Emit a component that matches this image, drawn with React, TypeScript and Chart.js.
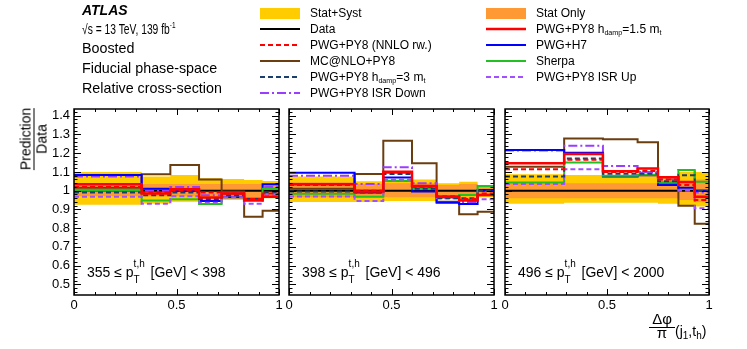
import React, { useEffect, useRef } from "react";
import { Chart, registerables } from "chart.js";
Chart.register(...registerables);

const FONT = "'Liberation Sans', Arial, Helvetica, sans-serif";

const Y_TICKS = [0.5, 0.6, 0.7, 0.8, 0.9, 1.0, 1.1, 1.2, 1.3, 1.4];
const X_TICKS = [0, 0.5, 1];
const Y_MIN = 0.443;
const Y_MAX = 1.436;

const PANEL_LOW = ["355", "398", "496"];
const PANEL_HIGH = ["398", "496", "2000"];

// ---------- panel 1 : 355 <= pT < 398 ----------
const EDGES_1 = [0, 0.33, 0.47, 0.61, 0.72, 0.83, 0.92, 1];
const DATA_1 = [1, 1, 1, 1, 1, 1, 1];
const SYST_UP_1 = [1.1, 1.075, 1.084, 1.066, 1.062, 1.057, 1.052];
const SYST_DN_1 = [0.925, 0.932, 0.941, 0.941, 0.95, 0.95, 0.96];
const STAT_UP_1 = [1.04, 1.035, 1.035, 1.035, 1.035, 1.035, 1.035];
const STAT_DN_1 = [0.97, 0.97, 0.97, 0.97, 0.97, 0.965, 0.965];
const NNLO_1 = [1.02, 0.99, 1.0, 0.99, 0.985, 0.955, 0.985];
const MCNLO_1 = [1.015, 1.087, 1.137, 1.06, 0.995, 0.861, 0.893];
const HDAMP3_1 = [0.99, 0.975, 0.99, 0.955, 0.975, 0.955, 0.99];
const ISRDN_1 = [1.075, 1.0, 1.02, 0.975, 0.985, 0.95, 1.02];
const HDAMP15_1 = [1.034, 0.985, 1.007, 0.963, 0.985, 0.947, 0.968];
const H7_1 = [1.083, 1.01, 1.0, 0.945, 0.965, 0.955, 1.034];
const SHERPA_1 = [1.0, 0.947, 0.954, 0.929, 0.98, 0.96, 1.01];
const ISRUP_1 = [0.968, 0.93, 0.97, 0.935, 0.965, 0.93, 0.975];

// ---------- panel 2 : 398 <= pT < 496 ----------
const EDGES_2 = [0, 0.32, 0.46, 0.6, 0.72, 0.83, 0.92, 1];
const DATA_2 = [1, 1, 1, 1, 1, 1, 1];
const SYST_UP_2 = [1.075, 1.05, 1.06, 1.06, 1.04, 1.048, 1.03];
const SYST_DN_2 = [0.94, 0.94, 0.945, 0.945, 0.955, 0.955, 0.965];
const STAT_UP_2 = [1.045, 1.035, 1.04, 1.04, 1.03, 1.035, 1.025];
const STAT_DN_2 = [0.965, 0.965, 0.965, 0.965, 0.97, 0.97, 0.975];
const NNLO_2 = [1.03, 1.0, 1.095, 1.02, 0.97, 0.955, 0.985];
const MCNLO_2 = [1.01, 1.089, 1.267, 1.146, 0.941, 0.874, 0.888];
const HDAMP3_2 = [0.995, 0.99, 1.089, 1.01, 0.96, 0.96, 1.0];
const ISRDN_2 = [1.08, 1.035, 1.125, 1.039, 0.965, 0.94, 1.0];
const HDAMP15_2 = [1.034, 0.995, 1.101, 1.025, 0.968, 0.947, 0.977];
const H7_2 = [1.096, 0.99, 1.07, 0.995, 0.936, 0.929, 1.003];
const SHERPA_2 = [0.983, 0.968, 1.052, 1.012, 0.97, 0.977, 1.025];
const ISRUP_2 = [0.969, 0.945, 1.06, 1.02, 0.96, 0.95, 0.954];

// ---------- panel 3 : 496 <= pT < 2000 ----------
const EDGES_3 = [0, 0.29, 0.48, 0.65, 0.75, 0.85, 0.93, 1];
const DATA_3 = [1, 1, 1, 1, 1, 1, 1];
const SYST_UP_3 = [1.088, 1.084, 1.08, 1.08, 1.07, 1.1, 1.1];
const SYST_DN_3 = [0.93, 0.935, 0.935, 0.935, 0.93, 0.918, 0.915];
const STAT_UP_3 = [1.04, 1.04, 1.04, 1.04, 1.04, 1.05, 1.06];
const STAT_DN_3 = [0.96, 0.96, 0.96, 0.96, 0.96, 0.95, 0.94];
const NNLO_3 = [1.114, 1.165, 1.1, 1.105, 1.06, 1.03, 0.95];
const MCNLO_3 = [1.128, 1.279, 1.274, 1.258, 1.042, 0.92, 0.823];
const HDAMP3_3 = [1.075, 1.172, 1.09, 1.09, 1.05, 1.082, 0.998];
const ISRDN_3 = [1.215, 1.24, 1.132, 1.1, 1.06, 1.11, 0.99];
const HDAMP15_3 = [1.146, 1.196, 1.104, 1.119, 1.071, 1.046, 0.968];
const H7_3 = [1.217, 1.203, 1.075, 1.082, 1.03, 1.015, 1.0];
const SHERPA_3 = [1.044, 1.151, 1.08, 1.085, 1.045, 1.11, 1.048];
const ISRUP_3 = [1.036, 1.114, 1.105, 1.095, 1.07, 1.0, 0.906];

const GOLD = "#ffcc00";
const ORANGE = "#ff9933";

type Style = { color: string; width: number; dash: number[]; order: number };
const STYLE: Record<string, Style> = {
  data: { color: "#000000", width: 2, dash: [], order: 50 },
  mcnlo: { color: "#6b3e10", width: 2, dash: [], order: 40 },
  isrDn: { color: "#9b3dff", width: 2, dash: [9, 3, 2, 3], order: 9 },
  h7: { color: "#0000ff", width: 2, dash: [], order: 8 },
  sherpa: { color: "#22c022", width: 2, dash: [], order: 7 },
  isrUp: { color: "#a050ff", width: 2, dash: [5, 3], order: 6 },
  hdamp3: { color: "#1b3f6b", width: 2, dash: [5, 3], order: 5 },
  nnlo: { color: "#ff0000", width: 2, dash: [5, 3], order: 4 },
  hdamp15: { color: "#ff0000", width: 2.5, dash: [], order: 3 },
};

const PANELS = [
  {
    edges: EDGES_1, left: 74, right: 279,
    band: { systUp: SYST_UP_1, systDn: SYST_DN_1, statUp: STAT_UP_1, statDn: STAT_DN_1 },
    lines: { data: DATA_1, mcnlo: MCNLO_1, isrDn: ISRDN_1, h7: H7_1, sherpa: SHERPA_1, isrUp: ISRUP_1, hdamp3: HDAMP3_1, nnlo: NNLO_1, hdamp15: HDAMP15_1 },
  },
  {
    edges: EDGES_2, left: 289, right: 494,
    band: { systUp: SYST_UP_2, systDn: SYST_DN_2, statUp: STAT_UP_2, statDn: STAT_DN_2 },
    lines: { data: DATA_2, mcnlo: MCNLO_2, isrDn: ISRDN_2, h7: H7_2, sherpa: SHERPA_2, isrUp: ISRUP_2, hdamp3: HDAMP3_2, nnlo: NNLO_2, hdamp15: HDAMP15_2 },
  },
  {
    edges: EDGES_3, left: 505, right: 709,
    band: { systUp: SYST_UP_3, systDn: SYST_DN_3, statUp: STAT_UP_3, statDn: STAT_DN_3 },
    lines: { data: DATA_3, mcnlo: MCNLO_3, isrDn: ISRDN_3, h7: H7_3, sherpa: SHERPA_3, isrUp: ISRUP_3, hdamp3: HDAMP3_3, nnlo: NNLO_3, hdamp15: HDAMP15_3 },
  },
];

const W = 747;
const H = 349;
const TOP = 109;
const BOTTOM = 295;
const XAXIS_H = 22;

const fmt = (v: number) => `${+(+v).toFixed(2)}`;

const framePlugin = {
  id: "frame",
  afterDraw(chart: any) {
    const { ctx, chartArea: a, scales } = chart;
    const x = scales.x;
    const y = scales.y;
    ctx.save();
    ctx.strokeStyle = "#000";
    ctx.lineWidth = 1;
    ctx.beginPath();
    for (let i = 0; i <= 80; i++) {
      const v = i * 0.02;
      if (v < Y_MIN || v > Y_MAX) continue;
      const py = Math.round(y.getPixelForValue(v)) + 0.5;
      const len = i % 5 === 0 ? 7 : 3.5;
      ctx.moveTo(a.left, py);
      ctx.lineTo(a.left + len, py);
      ctx.moveTo(a.right, py);
      ctx.lineTo(a.right - len, py);
    }
    for (let i = 0; i <= 10; i++) {
      const px = Math.round(x.getPixelForValue(i / 10)) + 0.5;
      const len = i % 5 === 0 ? 6 : 3;
      ctx.moveTo(px, a.bottom);
      ctx.lineTo(px, a.bottom - len);
      ctx.moveTo(px, a.top);
      ctx.lineTo(px, a.top + len);
    }
    ctx.stroke();
    ctx.lineWidth = 1.5;
    ctx.strokeRect(a.left, a.top, a.right - a.left, a.bottom - a.top);
    ctx.restore();
  },
};

function Panel({ panel, showY }: { panel: any; showY: boolean }) {
  const ref = useRef<HTMLCanvasElement | null>(null);
  useEffect(() => {
    if (!ref.current) return;
    const edges: number[] = panel.edges;
    const step = (vals: number[]) => [
      ...vals.map((v, i) => ({ x: edges[i], y: v })),
      { x: edges[edges.length - 1], y: vals[vals.length - 1] },
    ];
    const base = { pointRadius: 0, stepped: "before", borderWidth: 0, borderColor: "transparent", fill: false };
    const datasets: any[] = [
      { ...base, data: step(panel.band.systUp), fill: "+1", backgroundColor: GOLD, order: 100 },
      { ...base, data: step(panel.band.systDn), order: 101 },
      { ...base, data: step(panel.band.statUp), fill: "+1", backgroundColor: ORANGE, order: 98 },
      { ...base, data: step(panel.band.statDn), order: 99 },
    ];
    Object.keys(panel.lines).forEach((k) => {
      const s = STYLE[k];
      datasets.push({
        ...base,
        data: step(panel.lines[k]),
        borderColor: s.color,
        borderWidth: s.width,
        borderDash: s.dash,
        order: s.order,
        borderCapStyle: "butt",
        borderJoinStyle: "miter",
      });
    });
    const chart = new Chart(ref.current, {
      type: "line",
      data: { datasets },
      options: {
        animation: false,
        responsive: false,
        devicePixelRatio: 1,
        events: [],
        layout: {
          padding: {
            left: showY ? 0 : panel.left,
            right: W - panel.right,
            top: TOP,
            bottom: H - BOTTOM - XAXIS_H,
          },
        },
        plugins: { legend: { display: false }, tooltip: { enabled: false } },
        scales: {
          x: {
            type: "linear",
            min: 0,
            max: 1,
            grid: { display: false, drawTicks: false },
            border: { display: false },
            afterBuildTicks: (s: any) => {
              s.ticks = X_TICKS.map((v) => ({ value: v }));
            },
            afterFit: (s: any) => {
              s.height = XAXIS_H;
            },
            ticks: {
              autoSkip: false,
              maxRotation: 0,
              minRotation: 0,
              padding: 3,
              color: "#000",
              font: { family: FONT, size: 13 },
              callback: (v: any) => fmt(v),
            },
          },
          y: {
            type: "linear",
            min: Y_MIN,
            max: Y_MAX,
            display: showY,
            grid: { display: false, drawTicks: false },
            border: { display: false },
            afterBuildTicks: (s: any) => {
              s.ticks = Y_TICKS.map((v) => ({ value: v }));
            },
            afterFit: (s: any) => {
              s.width = showY ? panel.left : 0;
            },
            ticks: {
              autoSkip: false,
              padding: 4,
              color: "#000",
              font: { family: FONT, size: 13 },
              callback: (v: any) => fmt(v),
            },
          },
        },
      } as any,
      plugins: [framePlugin],
    });
    return () => chart.destroy();
  }, []);
  return (
    <canvas
      ref={ref}
      width={W}
      height={H}
      style={{ position: "absolute", left: 0, top: 0, width: W, height: H }}
    />
  );
}

// simple markup: _{sub}
function Rich({ text, subSize = "0.6em", subTop = "0.35em" }: { text: string; subSize?: string; subTop?: string }) {
  const parts = text.split(/(_\{[^}]*\})/);
  return (
    <>
      {parts.map((p, i) =>
        p.startsWith("_{") ? (
          <span key={i} style={{ fontSize: subSize, position: "relative", top: subTop }}>
            {p.slice(2, -1)}
          </span>
        ) : (
          <span key={i}>{p}</span>
        )
      )}
    </>
  );
}

function Txt({ x, baseline, size, children, style }: any) {
  return (
    <div
      style={{
        position: "absolute",
        left: x,
        top: baseline - 0.8465 * size,
        fontSize: size,
        lineHeight: 1,
        whiteSpace: "nowrap",
        fontFamily: FONT,
        color: "#000",
        ...style,
      }}
    >
      {children}
    </div>
  );
}

const LEGEND_LEFT = [
  { label: "Stat+Syst", kind: "box", color: GOLD },
  { label: "Data", kind: "line", key: "data" },
  { label: "PWG+PY8 (NNLO rw.)", kind: "line", key: "nnlo" },
  { label: "MC@NLO+PY8", kind: "line", key: "mcnlo" },
  { label: "PWG+PY8 h_{damp}=3 m_{t}", kind: "line", key: "hdamp3" },
  { label: "PWG+PY8 ISR Down", kind: "line", key: "isrDn" },
];
const LEGEND_RIGHT = [
  { label: "Stat Only", kind: "box", color: ORANGE },
  { label: "PWG+PY8 h_{damp}=1.5 m_{t}", kind: "line", key: "hdamp15" },
  { label: "PWG+H7", kind: "line", key: "h7" },
  { label: "Sherpa", kind: "line", key: "sherpa" },
  { label: "PWG+PY8 ISR Up", kind: "line", key: "isrUp" },
];

function LegendColumn({ items, swatchX, textX }: any) {
  return (
    <>
      {items.map((it: any, i: number) => {
        const baseline = 17 + 16 * i;
        const s = it.key ? STYLE[it.key] : null;
        return (
          <React.Fragment key={i}>
            {it.kind === "box" ? (
              <div
                style={{
                  position: "absolute",
                  left: swatchX,
                  top: baseline - 9.5,
                  width: 40,
                  height: 11,
                  background: it.color,
                }}
              />
            ) : (
              <svg
                width={40}
                height={6}
                style={{ position: "absolute", left: swatchX, top: baseline - 7.5 }}
              >
                <line
                  x1={0}
                  y1={3}
                  x2={40}
                  y2={3}
                  stroke={s!.color}
                  strokeWidth={s!.width}
                  strokeDasharray={s!.dash.length ? s!.dash.join(",") : undefined}
                />
              </svg>
            )}
            <Txt x={textX} baseline={baseline} size={12}>
              <Rich text={it.label} />
            </Txt>
          </React.Fragment>
        );
      })}
    </>
  );
}

function PanelLabel({ x, low, high }: any) {
  return (
    <Txt x={x} baseline={277} size={14}>
      {low} ≤ p
      <span style={{ position: "relative", display: "inline-block", width: 13 }}>
        <span style={{ position: "absolute", left: 0, top: -18.5, fontSize: 10 }}>t,h</span>
        <span style={{ position: "absolute", left: 0, top: -2.5, fontSize: 10 }}>T</span>
      </span>
      {" "}[GeV] &lt; {high}
    </Txt>
  );
}

export default function App() {
  return (
    <div
      style={{
        position: "fixed",
        left: 0,
        top: 0,
        width: W,
        height: H,
        background: "#fff",
        fontFamily: FONT,
        overflow: "hidden",
      }}
    >
      {PANELS.map((p, i) => (
        <Panel key={i} panel={p} showY={i === 0} />
      ))}

      {/* ATLAS block */}
      <Txt x={82} baseline={15} size={14} style={{ fontWeight: "bold", fontStyle: "italic" }}>
        ATLAS
      </Txt>
      <Txt
        x={82}
        baseline={34}
        size={14.3}
        style={{ transform: "scaleX(0.72)", transformOrigin: "left center" }}
      >
        √s = 13 TeV, 139 fb
        <span style={{ fontSize: 9, position: "relative", top: -6 }}>-1</span>
      </Txt>
      <Txt x={82} baseline={53.5} size={14.3}>Boosted</Txt>
      <Txt x={82} baseline={73} size={14.3}>Fiducial phase-space</Txt>
      <Txt x={82} baseline={93} size={14.3}>Relative cross-section</Txt>

      {/* legend */}
      <LegendColumn items={LEGEND_LEFT} swatchX={260} textX={310} />
      <LegendColumn items={LEGEND_RIGHT} swatchX={486} textX={536} />

      {/* panel labels */}
      {PANELS.map((p, i) => (
        <PanelLabel key={i} x={p.left + 13} low={PANEL_LOW[i]} high={PANEL_HIGH[i]} />
      ))}

      {/* y axis title */}
      <div
        style={{
          position: "absolute",
          left: 34,
          top: 139,
          transform: "translate(-50%, -50%) rotate(-90deg)",
          display: "flex",
          flexDirection: "column",
          alignItems: "center",
          fontSize: 14,
          lineHeight: "13px",
          whiteSpace: "nowrap",
        }}
      >
        <span>Prediction</span>
        <div style={{ borderTop: "1px solid #000", alignSelf: "stretch", margin: "1px 0" }} />
        <span>Data</span>
      </div>

      {/* x axis title */}
      <div
        style={{
          position: "absolute",
          left: 649,
          top: 311,
          display: "flex",
          flexDirection: "column",
          alignItems: "center",
          fontSize: 15,
          lineHeight: 1,
          width: 26,
        }}
      >
        <span>Δφ</span>
        <div style={{ borderTop: "1px solid #000", alignSelf: "stretch", margin: "1px 0 -3px" }} />
        <span>π</span>
      </div>
      <Txt x={675} baseline={336} size={14}>
        (j
        <span style={{ fontSize: 10, position: "relative", top: 3 }}>1</span>
        ,t
        <span style={{ fontSize: 10, position: "relative", top: 3 }}>h</span>)
      </Txt>
    </div>
  );
}
